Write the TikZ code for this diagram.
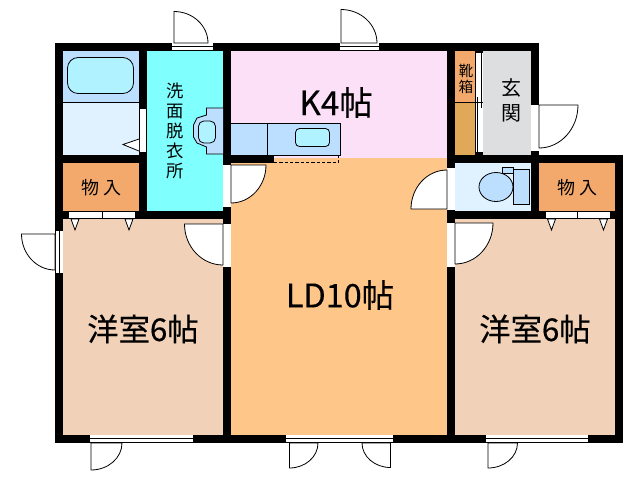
\documentclass[tikz,border=0pt]{standalone}
\usepackage{fontspec}
\setmainfont{Noto Sans CJK JP}
\newfontfamily\bigf[FakeBold=0.3]{Noto Sans CJK JP}
\tikzset{
  x=0.75pt,y=-0.75pt,
  wall/.style={fill=black,draw=none},
  opening/.style={fill=white,draw=none},
  thin line/.style={draw=black,line width=0.6pt},
  door/.style={draw=black,line width=0.6pt,fill=white},
  fixture/.style={draw=black,line width=0.6pt},
  label/.style={inner sep=0pt,text=black},
  small label/.style={inner sep=0pt,text=black,align=center},
}
\definecolor{bathblue}{HTML}{BDDFFF}
\definecolor{bathfloor}{HTML}{E0F2FF}
\definecolor{tubc}{HTML}{B0F2FF}
\definecolor{laundry}{HTML}{80FFFF}
\definecolor{closet}{HTML}{F4A96C}
\definecolor{kitchen}{HTML}{FBE0F8}
\definecolor{ld}{HTML}{FFC68A}
\definecolor{bedroom}{HTML}{F1D2B8}
\definecolor{shoe}{HTML}{E0A858}
\definecolor{genkan}{HTML}{DCDEE0}
\begin{document}
\begin{tikzpicture}
\useasboundingbox (0,0) rectangle (640,480);
\fill[white] (0,0) rectangle (640,480);
% walls
\fill[wall] (55,43) rectangle (539,443);
\fill[wall] (539,155) rectangle (623,443);
% rooms
\fill[bathblue] (63,51) rectangle (139,102);
\fill[bathfloor] (63,102) rectangle (139,155);
\fill[closet] (63,163) rectangle (139,211);
\fill[laundry] (147,51) rectangle (223,211);
\fill[kitchen] (231,51) rectangle (447,158);
\fill[ld] (231,158) rectangle (447,435);
\fill[wall] (223,155) rectangle (274,163);
\fill[closet] (455,51) rectangle (475,102);
\fill[shoe] (455,102) rectangle (475,155);
\fill[genkan] (483,51) rectangle (531,155);
\fill[bathfloor] (455,163) rectangle (531,211);
\fill[closet] (539,163) rectangle (615,211);
\fill[bedroom] (63,219) rectangle (223,435);
\fill[bedroom] (455,219) rectangle (615,435);
% bath
\draw[fixture] (63,102) -- (139,102);
\draw[fixture,fill=tubc,rounded corners=8] (67.5,57.5) rectangle (133.5,93.5);
\fill[opening] (140,109) rectangle (146,152);
\draw[thin line] (139.5,109) -- (139.5,152);
\draw[fixture,fill=white] (139,139) -- (123,144.5) -- (139,151);
% washer
\draw[fixture,fill=bathblue] (223,108) -- (206.5,108) -- (206.5,115) -- (197,118) -- (193.5,125) -- (193.5,137) -- (197,143) -- (206.5,147) -- (206.5,154) -- (223,154);
\draw[fixture,fill=tubc,rounded corners=4] (198.5,121) rectangle (215.5,143);
% kitchen counter
\draw[fixture,fill=bathblue] (231,123.5) -- (340.5,123.5) -- (340.5,155.5) -- (231,155.5);
\draw[fixture] (267.5,123.5) -- (267.5,155);
\draw[fixture,fill=tubc,rounded corners=3] (295.5,128.5) rectangle (329.5,146.5);
\draw[black,line width=0.6pt,dash pattern=on 2.5pt off 1.5pt] (274,162.5) -- (338.5,162.5) -- (338.5,156);
% closets
\foreach \a/\b/\c in {69/135/102,546/610/577.5}{
  \fill[opening] (\a,211.5) rectangle (\b,218);
  \draw[thin line] (\c,212) -- (\c,218);
  \draw[thin line] (\a,218.5) -- (\b,218.5);
}
\foreach \c in {75,129,551.5,603.5}{
  \draw[fixture,fill=white] (\c-4,219) -- (\c,230) -- (\c+4,219) -- cycle;
}
% shoe box
\fill[opening] (475,53) rectangle (483,152);
\draw[thin line] (475.5,53) -- (475.5,152);
\draw[thin line] (481,53) -- (481,108);
\draw[thin line] (477,97) -- (477,152);
\draw[fixture] (455,102.5) -- (483,102.5);
% toilet
\draw[fixture,fill=bathblue] (502.5,167.5) rectangle (513,173.5);
\draw[fixture,fill=bathblue] (496,187) ellipse (17 and 14.5);
\draw[fixture,fill=bathblue] (513.5,169.5) rectangle (529,204.5);
% interior openings
\fill[opening] (223,165) rectangle (231,207);
\fill[opening] (223,224) rectangle (231,267);
\fill[opening] (447,168) rectangle (455,210);
\fill[opening] (447,223) rectangle (455,267);
\fill[opening] (531,105) rectangle (539,151);
% exterior windows
\foreach \a/\b/\y in {172/213/43,340/379/43,90/193/435,286/393/435,486/588/435}{
  \fill[opening] (\a,\y) rectangle (\b,\y+8);
  \draw[thin line] (\a,\y+3.5) -- (\b,\y+3.5);
  \draw[thin line] (\a,\y+7.5) -- (\b,\y+7.5);
}
\fill[opening] (55,231) rectangle (63,273);
\draw[thin line] (55.5,231) -- (55.5,273);
\draw[thin line] (59,231) -- (59,273);
% doors
\draw[door] (174,43) -- (174,11.5) arc[start angle=-90,end angle=0,x radius=34,y radius=31.5] -- cycle;
\draw[door] (341,43) -- (341,9.5) arc[start angle=-90,end angle=0,x radius=36,y radius=33.5] -- cycle;
\draw[door] (231,165) -- (266,165) arc[start angle=0,end angle=90,x radius=35,y radius=38] -- cycle;
\draw[door] (447,170) arc[start angle=-90,end angle=-180,x radius=36,y radius=39] -- (447,209) -- cycle;
\draw[door] (223,224) -- (184.5,224) arc[start angle=180,end angle=90,x radius=38.5,y radius=41] -- cycle;
\draw[door] (55,234) -- (21.5,234) arc[start angle=180,end angle=90,x radius=33.5,y radius=36] -- cycle;
\draw[door] (455,223) -- (493,223) arc[start angle=0,end angle=90,x radius=38,y radius=41] -- cycle;
\draw[door] (539,105) -- (578,105) arc[start angle=0,end angle=90,x radius=39,y radius=43] -- cycle;
\draw[door] (91,443) -- (91,470) arc[start angle=90,end angle=0,x radius=31,y radius=27] -- cycle;
\draw[door] (289.5,443) -- (289.5,468) arc[start angle=90,end angle=0,x radius=28.5,y radius=25] -- cycle;
\draw[door] (390.5,443) -- (390.5,467.5) arc[start angle=90,end angle=180,x radius=28.5,y radius=24.5] -- cycle;
\draw[door] (488,443) -- (488,468) arc[start angle=90,end angle=0,x radius=29.5,y radius=25] -- cycle;
% labels
\node[label,font=\bigf\fontsize{25}{25}\selectfont] (k) at (336,102.5) {K4帖};
\node[label,font=\bigf\fontsize{24.3}{25}\selectfont] (ldl) at (340,295) {LD10帖};
\node[label,font=\bigf\fontsize{23.5}{25}\selectfont] (w1) at (143,329) {洋室6帖};
\node[label,font=\bigf\fontsize{23.5}{25}\selectfont] (w2) at (535,329) {洋室6帖};
\node[small label,font=\fontsize{13}{15}\selectfont] (sen) at (175.5,131) {洗\\面\\脱\\衣\\所};
\node[small label,font=\fontsize{13.5}{14}\selectfont] (m1) at (101.5,188) {物\hspace{3pt}入};
\node[small label,font=\fontsize{13.5}{14}\selectfont] (m2) at (577.5,188) {物\hspace{3pt}入};
\node[small label,font=\fontsize{11}{12.4}\selectfont] (kutsu) at (466,79) {靴\\箱};
\node[small label,font=\fontsize{15}{18.75}\selectfont] (gen) at (511,100) {玄\\関};
\end{tikzpicture}
\end{document}
